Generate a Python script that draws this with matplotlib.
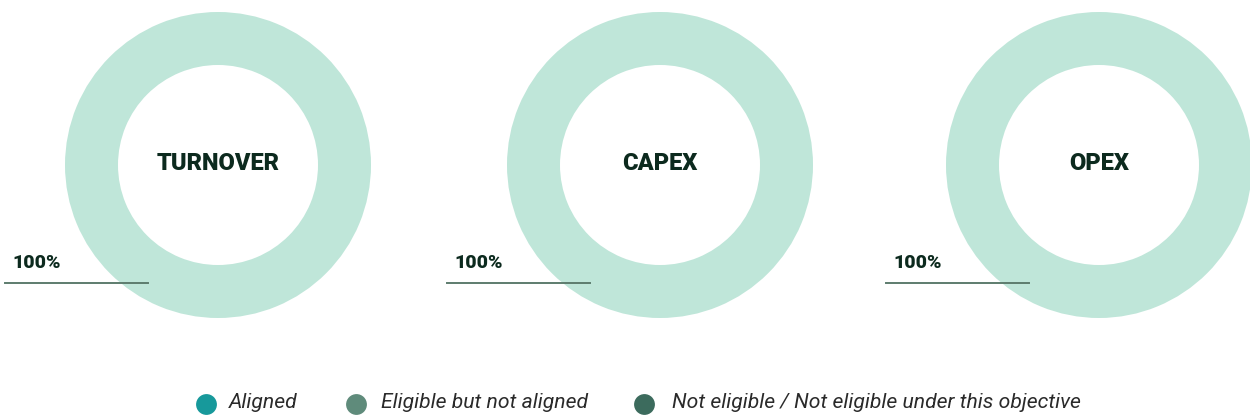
import matplotlib.pyplot as plt

# share of each KPI by taxonomy status (%)
kpis = ["TURNOVER", "CAPEX", "OPEX"]
aligned = [0, 0, 0]
eligible_not_aligned = [0, 0, 0]
not_eligible = [100, 100, 100]

legend_labels = ["Aligned", "Eligible but not aligned",
                 "Not eligible / Not eligible under this objective"]
legend_colors = ["#17999b", "#5f8b7b", "#3c6b5d"]
ring_colors = ["#17999b", "#5f8b7b", "#bfe6d9"]

W, H = 1250, 420
fig = plt.figure(figsize=(W / 100, H / 100), dpi=100)
fig.patch.set_facecolor("white")

centers_x = [218, 660, 1099]
cy = 165
r_out = 153
ring_w = 53 / 153
dark = "#0c2a1e"

for i in range(len(kpis)):
    cx = centers_x[i]
    ax = fig.add_axes([(cx - r_out) / W, (H - cy - r_out) / H, 2 * r_out / W, 2 * r_out / H])
    vals = [aligned[i], eligible_not_aligned[i], not_eligible[i]]
    ax.pie(vals, colors=ring_colors, startangle=90, counterclock=False,
           radius=1, wedgeprops=dict(width=ring_w, linewidth=0))
    ax.set_aspect("equal")
    ax.set_xlim(-1, 1)
    ax.set_ylim(-1, 1)
    ax.axis("off")

# overlay axis in pixel coordinates for labels, leader lines and legend
base = fig.add_axes([0, 0, 1, 1])
base.set_xlim(0, W)
base.set_ylim(H, 0)
base.axis("off")
base.patch.set_alpha(0)
base.set_zorder(10)

for i, name in enumerate(kpis):
    cx = centers_x[i]
    base.text(cx, 163, name, ha="center", va="center", fontsize=17,
              fontweight="black", family="Roboto", color=dark)

    # percentage callout with leader line
    x0 = cx - 213
    total = aligned[i] + eligible_not_aligned[i] + not_eligible[i]
    base.text(x0 + 7, 263, f"{total}%", ha="left", va="center", fontsize=14,
              fontweight="black", family="Roboto", color=dark)
    base.plot([x0, x0 + 143], [283, 283], color="#5d7c6e", lw=1.4)

# legend row
marker_x = [206, 356, 644]
text_x = [229, 381, 672]
for mx, tx, lab, col in zip(marker_x, text_x, legend_labels, legend_colors):
    base.plot(mx, 404, "o", ms=15, color=col, mec="none")
    base.text(tx, 403, lab, ha="left", va="center", fontsize=15.2,
              style="italic", family="Roboto", color="#2a2a2a")

fig.savefig("out.png", dpi=100, facecolor="white")
